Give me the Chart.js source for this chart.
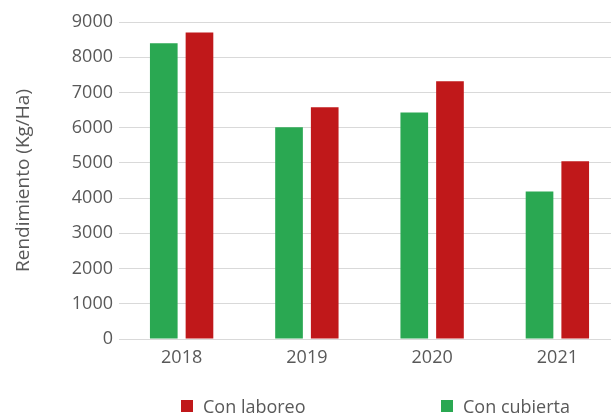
<!DOCTYPE html>
<html>

<head>
    <meta charset="utf-8" />
    <style>
        html, body { margin: 0; padding: 0; background: #fff; overflow: hidden; }
        #wrap { position: relative; width: 620px; height: 414px; }
        .legend-item { position: absolute; top: 394px; height: 24px; display: flex; align-items: center;
            font-family: "Open Sans", sans-serif; font-size: 18px; color: #595959; }
        .legend-box { width: 12px; height: 12px; margin-right: 10px; }
    </style>
</head>

<body>
    <div id="wrap">
        <canvas id="yieldChart" width="620" height="414"></canvas>
        <div class="legend-item" style="left:181px;"><span class="legend-box" style="background:#c0181a"></span>Con laboreo</div>
        <div class="legend-item" style="left:441px;"><span class="legend-box" style="background:#2aa852"></span>Con cubierta</div>
    </div>

    <script src="https://cdn.jsdelivr.net/npm/chart.js@4.4.0/dist/chart.umd.min.js"></script>
    <script>
        const years = ["2018", "2019", "2020", "2021"];
        const conCubierta = [8400, 6010, 6430, 4190];
        const conLaboreo = [8700, 6580, 7320, 5050];
        const yTicks = [0, 1000, 2000, 3000, 4000, 5000, 6000, 7000, 8000, 9000];

        const textColor = "#595959";
        const gridColor = "#d9d9d9";

        let ctx = document.getElementById('yieldChart');
        let chart = new Chart(ctx, {
            type: 'bar',
            data: {
                labels: years,
                datasets: [{
                    label: "Con cubierta",
                    data: conCubierta,
                    backgroundColor: "#2aa852",
                    categoryPercentage: 0.57,
                    barPercentage: 0.775
                }, {
                    label: "Con laboreo",
                    data: conLaboreo,
                    backgroundColor: "#c0181a",
                    categoryPercentage: 0.57,
                    barPercentage: 0.775
                }]
            },
            options: {
                responsive: false,
                animation: false,
                layout: {
                    padding: { top: 22, right: 0, bottom: 45, left: 0 }
                },
                plugins: {
                    legend: { display: false },
                    tooltip: { enabled: false }
                },
                scales: {
                    x: {
                        afterFit: function (scale) { scale.height = 30; },
                        grid: { display: false, drawTicks: false },
                        border: { display: true, color: gridColor, width: 1 },
                        ticks: {
                            color: textColor,
                            padding: 8,
                            font: { family: "Open Sans", size: 18 }
                        }
                    },
                    y: {
                        min: yTicks[0],
                        max: yTicks[yTicks.length - 1],
                        afterFit: function (scale) { scale.width = 119; },
                        afterBuildTicks: function (scale) {
                            scale.ticks = yTicks.map(v => ({ value: v }));
                        },
                        grid: { color: gridColor, lineWidth: 1, drawTicks: false },
                        border: { display: false },
                        ticks: {
                            color: textColor,
                            padding: 6,
                            font: { family: "Open Sans", size: 18 },
                            callback: function (value) { return String(value); }
                        },
                        title: {
                            display: true,
                            text: "Rendimiento (Kg/Ha)",
                            color: textColor,
                            padding: { top: 12 },
                            font: { family: "Open Sans", size: 19 }
                        }
                    }
                }
            }
        });
    </script>
</body>

</html>
